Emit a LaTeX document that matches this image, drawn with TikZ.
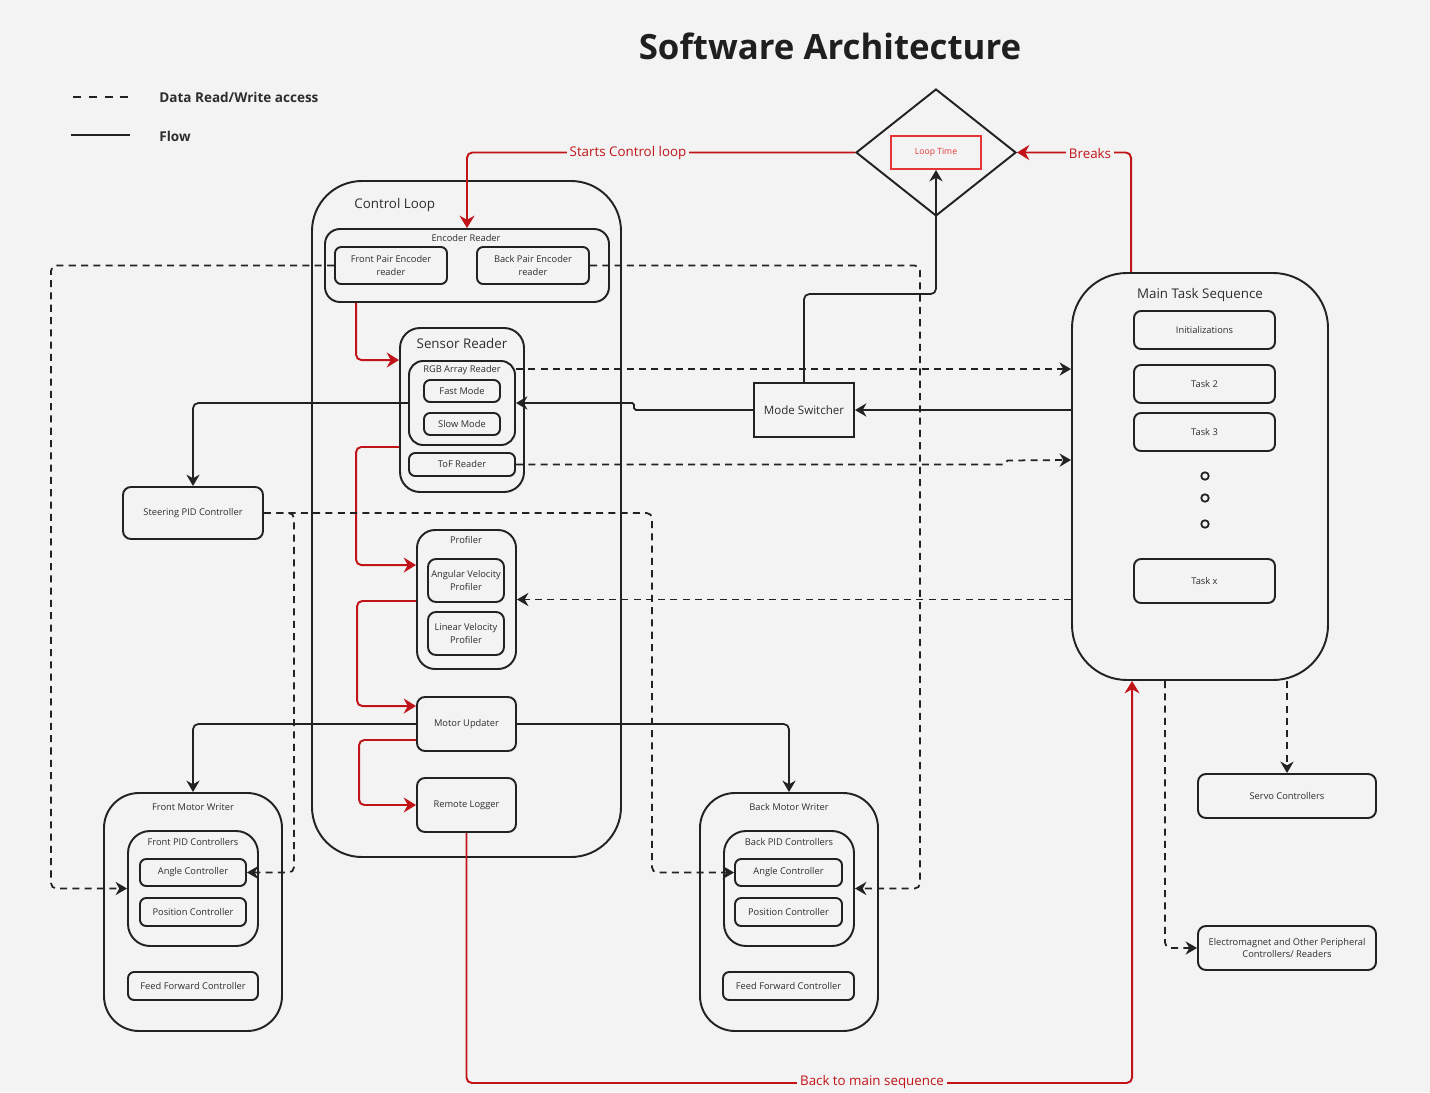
\documentclass[tikz,border=0pt]{standalone}
\usepackage{fontspec}
\setmainfont{Open Sans}
\usetikzlibrary{arrows.meta, shapes.geometric, calc}
\definecolor{bgcolor}{RGB}{243, 243, 243}
\definecolor{flowred}{RGB}{192, 20, 24}
\definecolor{looptimered}{RGB}{228, 52, 52}
\definecolor{linegray}{RGB}{34, 34, 34}
\definecolor{textgray}{RGB}{45, 45, 45}

\tikzset{
  boxsize/.style 2 args={minimum width=#1*0.02cm, minimum height=#2*0.02cm},
  smallbox/.style={draw=linegray, line width=1.1pt, rounded corners=3.5pt, inner sep=0pt,
    align=center, text=textgray, font=\fontsize{5.3}{7}\selectfont},
  container/.style={draw=linegray, line width=1.1pt, inner sep=0pt},
  smalltitle/.style={text=textgray, font=\fontsize{5.3}{7}\selectfont, inner sep=0pt},
  bigtitle/.style={text=textgray, font=\fontsize{7.6}{9}\selectfont, inner sep=0pt},
  flow/.style={draw=linegray, line width=1pt, rounded corners=3pt, -{Stealth[length=6.5pt, width=7.5pt]}},
  data/.style={flow, dash pattern=on 4pt off 3pt},
  redflow/.style={draw=flowred, line width=1.1pt, rounded corners=3pt, -{Stealth[length=7pt, width=8.5pt]}},
  redlabel/.style={text=flowred, fill=bgcolor, font=\fontsize{7.6}{9}\selectfont, inner sep=1.5pt},
}

\begin{document}
\begin{tikzpicture}[x=0.02cm, y=-0.02cm]

  \fill[bgcolor] (0,0) rectangle (1430,1092);
  \useasboundingbox (0,0) rectangle (1430,1092);

  % --- Title and legend ---
  \node[text=black!88, font=\bfseries\fontsize{19.8}{24}\selectfont] (title) at (830,46) {Software Architecture};
  \coordinate (dashA) at (73,97);
  \coordinate (dashB) at (128,97);
  \coordinate (solidA) at (71,135);
  \coordinate (solidB) at (130,135);
  \draw[linegray, line width=1.1pt, dash pattern=on 4.5pt off 4.5pt] (dashA) -- (dashB);
  \draw[linegray, line width=1.1pt] (solidA) -- (solidB);
  \node[anchor=west, inner sep=0pt, text=textgray, font=\bfseries\fontsize{7.7}{9}\selectfont] (legdata) at (159,97) {Data Read/Write access};
  \node[anchor=west, inner sep=0pt, text=textgray, font=\bfseries\fontsize{7.7}{9}\selectfont] (legflow) at (159,136) {Flow};

  % --- Loop time check ---
  \node[diamond, draw=linegray, line width=1.1pt, inner sep=0pt, boxsize={160}{127}] (diam) at (936,152.5) {};
  \node[draw=looptimered, line width=1.1pt, text=looptimered, inner sep=0pt, boxsize={90}{33},
    font=\fontsize{4.9}{6}\selectfont] (loop) at (936,152.5) {Loop Time};

  % --- Control loop ---
  \node[container, rounded corners=1cm, boxsize={309}{676}] (ctrl) at (466.5,519) {};
  \node[bigtitle, anchor=west] (ctrltitle) at (354,205) {Control Loop};

  \node[container, rounded corners=0.3cm, boxsize={284}{73}] (encr) at (467,265.5) {};
  \node[smalltitle] (encrtitle) at (466,238) {Encoder Reader};
  \node[smallbox, boxsize={112}{37}] (fenc) at (391,265.5) {Front Pair Encoder\\reader};
  \node[smallbox, boxsize={112}{37}] (benc) at (533,265.5) {Back Pair Encoder\\reader};

  \node[container, rounded corners=0.4cm, boxsize={124}{164}] (sens) at (462,410) {};
  \node[bigtitle] (senstitle) at (462,343) {Sensor Reader};
  \node[container, rounded corners=0.28cm, boxsize={106}{84}] (rgb) at (462,403) {};
  \node[smalltitle] (rgbtitle) at (462,370) {RGB Array Reader};
  \node[smallbox, boxsize={76}{22}] (fast) at (462,391) {Fast Mode};
  \node[smallbox, boxsize={76}{22}] (slow) at (462,424) {Slow Mode};
  \node[smallbox, boxsize={106}{23}] (tof) at (462,464.5) {ToF Reader};

  \node[container, rounded corners=0.36cm, boxsize={99}{139}] (prof) at (466.5,599.5) {};
  \node[smalltitle] (proftitle) at (466,540) {Profiler};
  \node[smallbox, rounded corners=0.16cm, boxsize={76}{43}] (angv) at (466,580.5) {Angular Velocity\\Profiler};
  \node[smallbox, rounded corners=0.16cm, boxsize={76}{43}] (linv) at (466,633.5) {Linear Velocity\\Profiler};

  \node[smallbox, rounded corners=0.16cm, boxsize={99}{54}] (motor) at (466.5,724) {Motor Updater};
  \node[smallbox, rounded corners=0.16cm, boxsize={99}{54}] (logger) at (466.5,805) {Remote Logger};

  % --- Steering and motor writers ---
  \node[smallbox, rounded corners=0.16cm, boxsize={140}{52}] (steer) at (193,513) {Steering PID Controller};

  \node[container, rounded corners=0.7cm, boxsize={178}{238}] (fmw) at (193,912) {};
  \node[smalltitle] (fmwtitle) at (193,807) {Front Motor Writer};
  \node[container, rounded corners=0.44cm, boxsize={130}{115}] (fpid) at (193,888.5) {};
  \node[smalltitle] (fpidtitle) at (193,842) {Front PID Controllers};
  \node[smallbox, boxsize={106}{27}] (fang) at (193,872.5) {Angle Controller};
  \node[smallbox, boxsize={106}{28}] (fpos) at (193,912) {Position Controller};
  \node[smallbox, boxsize={130}{28}] (fff) at (193,986) {Feed Forward Controller};

  \node[container, rounded corners=0.7cm, boxsize={178}{238}] (bmw) at (789,912) {};
  \node[smalltitle] (bmwtitle) at (789,807) {Back Motor Writer};
  \node[container, rounded corners=0.44cm, boxsize={130}{115}] (bpid) at (789,888.5) {};
  \node[smalltitle] (bpidtitle) at (789,842) {Back PID Controllers};
  \node[smallbox, boxsize={107}{27}] (bang) at (788.5,872.5) {Angle Controller};
  \node[smallbox, boxsize={107}{28}] (bpos) at (788.5,912) {Position Controller};
  \node[smallbox, boxsize={131}{28}] (bff) at (788.5,986) {Feed Forward Controller};

  \node[draw=linegray, line width=1.1pt, inner sep=0pt, text=textgray, boxsize={100}{54},
    font=\fontsize{6.6}{8}\selectfont] (mode) at (804,410) {Mode Switcher};

  % --- Main task sequence ---
  \node[container, rounded corners=1.1cm, boxsize={256}{407}] (mts) at (1200,476.5) {};
  \node[bigtitle] (mtstitle) at (1200,295) {Main Task Sequence};
  \node[smallbox, rounded corners=0.14cm, boxsize={141}{38}] (init) at (1204.5,330) {Initializations};
  \node[smallbox, rounded corners=0.14cm, boxsize={141}{38}] (task2) at (1204.5,384) {Task 2};
  \node[smallbox, rounded corners=0.14cm, boxsize={141}{38}] (task3) at (1204.5,432) {Task 3};
  \foreach \y [count=\i] in {476,498,524}
    \node[circle, draw=linegray, line width=1pt, inner sep=0pt, minimum size=0.15cm] (dot\i) at (1205,\y) {};
  \node[smallbox, rounded corners=0.14cm, boxsize={141}{44}] (taskx) at (1204.5,581) {Task x};

  \node[smallbox, rounded corners=0.16cm, boxsize={178}{44}] (servo) at (1287,796) {Servo Controllers};
  \node[smallbox, rounded corners=0.16cm, boxsize={178}{44}] (emag) at (1287,948) {Electromagnet and Other Peripheral\\Controllers/ Readers};

  % --- Red flow ---
  \draw[redflow] (diam.west) -| (encr.north);
  \node[redlabel] (startslbl) at (628,153) {Starts Control loop};
  \draw[redflow] ($(mts.north west)+(60,0)$) |- (diam.east);
  \node[redlabel] (breakslbl) at (1090,153) {Breaks};
  \draw[redflow] ($(encr.south west)+(32,0)$) |- ($(sens.north west)+(0,33)$);
  \draw[redflow] ($(sens.south west)+(0,-46)$) -- ++(-43,0) |- ($(prof.north west)+(0,36)$);
  \draw[redflow] ($(prof.south west)+(0,-69)$) -- ++(-59,0) |- ($(motor.north west)+(0,10)$);
  \draw[redflow] ($(motor.south west)+(0,-12)$) -- ++(-57,0) |- (logger.west);
  \draw[redflow] (logger.south) -- ++(0,250) -| ($(mts.south west)+(61,0)$);
  \node[redlabel] (backlbl) at (872,1082) {Back to main sequence};

  % --- Solid flow ---
  \draw[flow] (mode.north) -- ++(0,-88) -| (loop.south);
  \draw[flow] (mts.west |- mode.east) -- (mode.east);
  \draw[flow, rounded corners=1pt] (mode.west) -- ++(-119,0) -- ++(0,-7) -- (rgb.east);
  \draw[flow] (rgb.west) -| (steer.north);
  \draw[flow] (motor.west) -| (fmw.north);
  \draw[flow] (motor.east) -| (bmw.north);

  % --- Data access ---
  \draw[data] (fenc.west) -- ++(-283,0) |- (fpid.west);
  \draw[data] (benc.east) -- ++(330,0) |- (bpid.east);
  \coordinate (rgbout) at ($(rgb.north east)+(0,9)$);
  \draw[data] (rgbout) -- (rgbout -| mts.west);
  \draw[data, rounded corners=1pt] (tof.east) -- ++(490,0) -- ++(0,-4) -- ($(mts.west)+(0,-16.5)$);
  \draw[data] (prof.east -| mts.west) -- (prof.east);
  \draw[data] (steer.east) -- ++(388,0) |- (bang.west);
  \draw[data] (steer.east) -- ++(30,0) |- (fang.east);
  \draw[data] (servo.north |- mts.south) -- (servo.north);
  \draw[data] ($(mts.south west)+(94,0)$) |- (emag.west);

\end{tikzpicture}
\end{document}
